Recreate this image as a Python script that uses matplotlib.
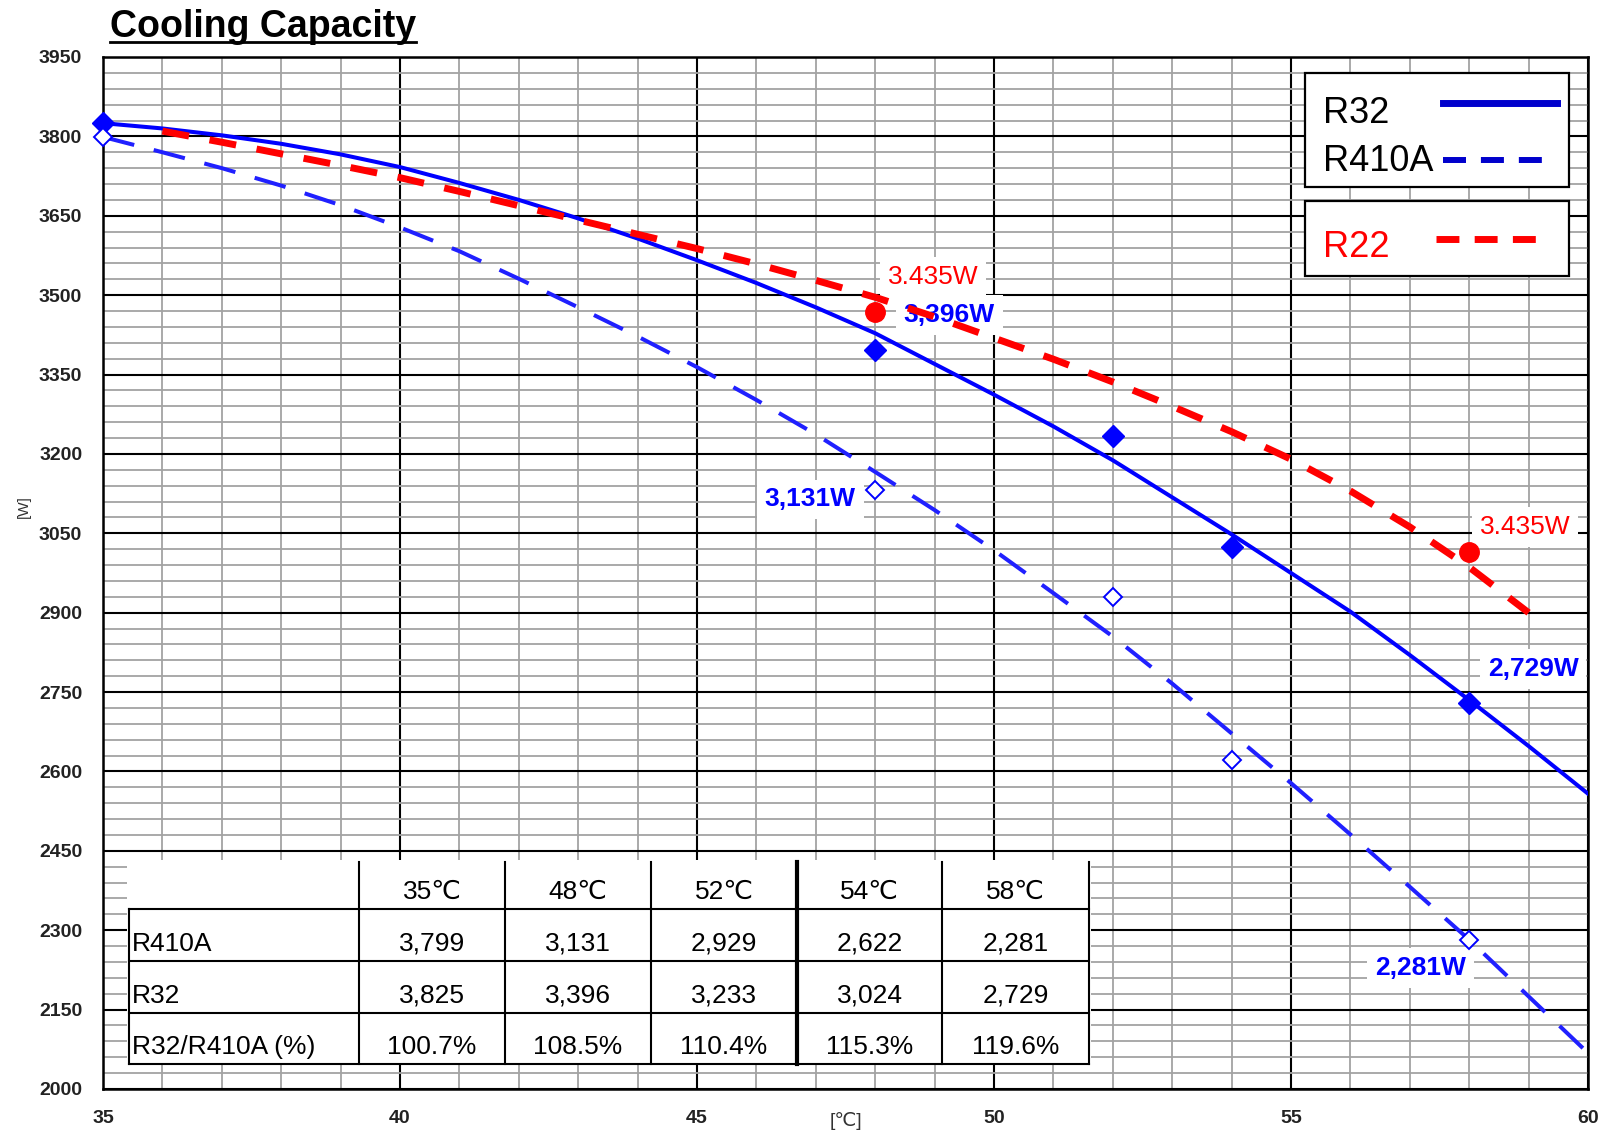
import matplotlib
matplotlib.use('Agg')
import matplotlib.pyplot as plt
from matplotlib.patches import Rectangle
from matplotlib.lines import Line2D

plt.rcParams['font.family'] = ['Liberation Sans', 'DejaVu Sans']

W, H = 1608, 1135

# measured capacities [W]
temps = [35, 48, 52, 54, 58]
r410a = [3799, 3131, 2929, 2622, 2281]
r32 = [3825, 3396, 3233, 3024, 2729]

r22_x = [48, 58]
r22_y = [3468, 3015]
r22_labels = ['3.435W', '3.435W']

# trend curves
curve_x = list(range(35, 61))
r32_curve = [3825, 3815, 3802, 3786, 3766, 3742, 3712, 3680, 3645, 3607,
             3566, 3523, 3477, 3428, 3370, 3312, 3252, 3188, 3118, 3048,
             2975, 2902, 2820, 2735, 2648, 2558]
r410a_curve = [3799, 3770, 3740, 3707, 3670, 3628, 3583, 3531, 3477, 3422,
               3364, 3302, 3237, 3166, 3094, 3018, 2937, 2855, 2766, 2672,
               2578, 2481, 2382, 2282, 2175, 2068]
r22_curve_x = list(range(36, 60))
r22_curve = [3810, 3789, 3767, 3745, 3722, 3696, 3669, 3642, 3615, 3588,
             3559, 3528, 3496, 3459, 3419, 3379, 3336, 3290, 3242, 3190,
             3130, 3062, 2986, 2900]

BLUE = '#0000ff'
RED = '#ff0000'


def fx(px):
    return px / W


def fy(py):
    return 1 - py / H


fig = plt.figure(figsize=(W / 100, H / 100), dpi=100)
ax = fig.add_axes([fx(103), fy(1089), (1588 - 103) / W, (1089 - 57) / H])
ax.set_xlim(35, 60)
ax.set_ylim(2000, 3950)
ax.set_xticks(range(35, 61, 5))
ax.set_xticks(range(35, 61), minor=True)
ax.set_yticks(range(2000, 3951, 150))
ax.set_yticks(range(2000, 3951, 30), minor=True)
ax.grid(which='minor', color='#a3a3a3', lw=1.3)
ax.grid(which='major', color='black', lw=1.5)
ax.set_axisbelow(True)
ax.tick_params(which='both', length=0, pad=15, labelsize=14, labelcolor='#222222')
for lab in ax.get_xticklabels() + ax.get_yticklabels():
    lab.set_fontweight('bold')
for s in ax.spines.values():
    s.set_linewidth(1.8)

# curves
ax.plot(curve_x, r32_curve, color=BLUE, lw=2.9, zorder=4)
ax.plot(curve_x, r410a_curve, color='#2020ff', lw=2.9, dashes=(8, 5), zorder=4)
ax.plot(r22_curve_x, r22_curve, color=RED, lw=5, dashes=(3.9, 3.0), zorder=4)

# points
ax.plot(temps, r32, 'D', color=BLUE, ms=11, zorder=5, clip_on=False)
ax.plot(temps, r410a, 'D', mfc='white', mec=BLUE, mew=1.4, ms=9.5, zorder=5, clip_on=False)
ax.plot(r22_x, r22_y, 'o', color=RED, ms=14, zorder=5)

box = dict(boxstyle='square,pad=0.3', fc='white', ec='none')


def tag(x, y, s, color, dx, dy, weight='bold'):
    ax.annotate(s, (x, y), xytext=(dx, dy), textcoords='offset pixels',
                ha='center', va='center', color=color, fontsize=19,
                fontweight=weight, bbox=box, zorder=3)


tag(48, r32[1], f'{r32[1]:,}W', BLUE, 74, 35)
tag(48, r410a[1], f'{r410a[1]:,}W', BLUE, -65, -9)
tag(58, r32[4], f'{r32[4]:,}W', BLUE, 64, 34)
tag(58, r410a[4], f'{r410a[4]:,}W', BLUE, -49, -28)
tag(r22_x[0], r22_y[0], r22_labels[0], RED, 58, 35, 'normal')
tag(r22_x[1], r22_y[1], r22_labels[1], RED, 56, 25, 'normal')

# axis units
fig.text(fx(846), fy(1121), '[℃]', ha='center', va='center', fontsize=14, color='#333333')
fig.text(fx(24), fy(507), '[W]', ha='center', va='center', fontsize=11,
         color='#333333', rotation=90)

# title with underline
title = fig.text(fx(110), fy(37), 'Cooling Capacity', fontsize=27,
                 fontweight='bold', va='baseline', ha='left')
fig.canvas.draw()
bb = title.get_window_extent()
fig.add_artist(Line2D([bb.x0 / W, bb.x1 / W], [fy(42), fy(42)], color='black', lw=2))

# legend boxes
fig.add_artist(Rectangle((fx(1305), fy(187)), (1569 - 1305) / W, (187 - 73) / H,
                         fc='white', ec='black', lw=1.6, zorder=6))
fig.add_artist(Rectangle((fx(1305), fy(276)), (1569 - 1305) / W, (276 - 201) / H,
                         fc='white', ec='black', lw=1.6, zorder=6))
fig.text(fx(1323), fy(123), 'R32', fontsize=26, va='baseline', zorder=7)
fig.text(fx(1323), fy(171), 'R410A', fontsize=26, va='baseline', zorder=7)
fig.text(fx(1323), fy(257), 'R22', fontsize=26, va='baseline', color=RED, zorder=7)
fig.add_artist(Line2D([fx(1443), fx(1557)], [fy(103), fy(103)], color='#0000cc',
                      lw=5, zorder=7))
fig.add_artist(Line2D([fx(1443), fx(1542)], [fy(160), fy(160)], color='#0000cc',
                      lw=4.3, dashes=(3.85, 2.5), zorder=7))
fig.add_artist(Line2D([fx(1436), fx(1536)], [fy(239), fy(239)], color=RED,
                      lw=5, dashes=(3.3, 2.2), zorder=7))

# data table
col_edges = [129, 359, 505, 651, 797, 942, 1089]
row_edges = [862, 909, 961, 1013, 1064]
fig.add_artist(Rectangle((fx(127), fy(1065)), (1091 - 127) / W, (1065 - 860) / H,
                         fc='white', ec='none', zorder=6))
for i, x in enumerate(col_edges):
    top = row_edges[1] if i == 0 else row_edges[0]
    fig.add_artist(Line2D([fx(x), fx(x)], [fy(top), fy(row_edges[-1])], color='black',
                          lw=3 if x == 797 else 1.5, zorder=7))
for y in row_edges[1:]:
    fig.add_artist(Line2D([fx(col_edges[0]), fx(col_edges[-1])], [fy(y), fy(y)],
                          color='black', lw=1.5, zorder=7))

ratio = [f'{a / b * 100:.1f}%' for a, b in zip(r32, r410a)]
rows = [
    ('', [f'{t}℃' for t in temps]),
    ('R410A', [f'{v:,}' for v in r410a]),
    ('R32', [f'{v:,}' for v in r32]),
    ('R32/R410A (%)', ratio),
]
for r, (name, cells) in enumerate(rows):
    base = fy(row_edges[r + 1] - 10)
    fig.text(fx(132), base, name, fontsize=19, va='baseline', ha='left', zorder=8)
    for c, txt in enumerate(cells):
        cx = (col_edges[c + 1] + col_edges[c + 2]) / 2
        fig.text(fx(cx), base, txt, fontsize=19, va='baseline', ha='center', zorder=8)

fig.savefig('out.png', dpi=100)
